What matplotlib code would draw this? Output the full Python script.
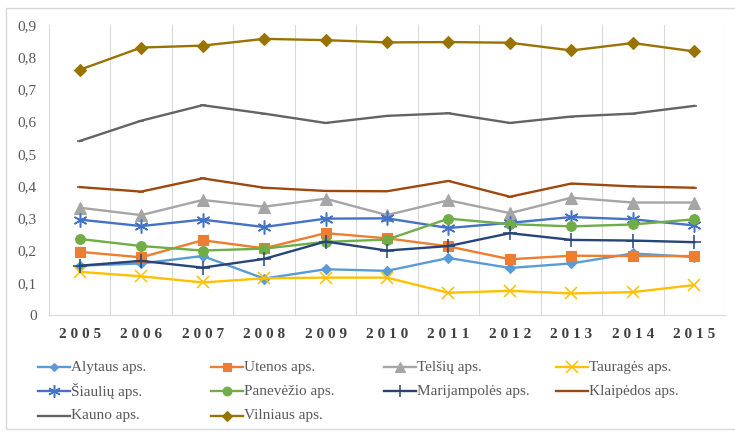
import matplotlib
matplotlib.use("Agg")
import matplotlib.pyplot as plt
from matplotlib.patches import Rectangle
from matplotlib.lines import Line2D

years = [2005, 2006, 2007, 2008, 2009, 2010, 2011, 2012, 2013, 2014, 2015]
y_ticks = [0, 0.1, 0.2, 0.3, 0.4, 0.5, 0.6, 0.7, 0.8, 0.9]
y_tick_labels = ["0", "0,1", "0,2", "0,3", "0,4", "0,5", "0,6", "0,7", "0,8", "0,9"]

alytus = [0.153, 0.160, 0.183, 0.113, 0.142, 0.137, 0.177, 0.146, 0.160, 0.191, 0.180]
utena = [0.196, 0.179, 0.232, 0.207, 0.254, 0.238, 0.213, 0.173, 0.184, 0.183, 0.183]
telsiai = [0.333, 0.310, 0.357, 0.336, 0.361, 0.310, 0.356, 0.316, 0.364, 0.349, 0.349]
taurage = [0.134, 0.120, 0.101, 0.114, 0.116, 0.116, 0.069, 0.075, 0.067, 0.071, 0.093]
siauliai = [0.296, 0.276, 0.296, 0.273, 0.299, 0.300, 0.270, 0.286, 0.304, 0.297, 0.278]
panevezys = [0.236, 0.214, 0.200, 0.206, 0.227, 0.234, 0.299, 0.282, 0.275, 0.281, 0.297]
marijampole = [0.153, 0.168, 0.147, 0.174, 0.228, 0.200, 0.214, 0.254, 0.233, 0.231, 0.226]
klaipeda = [0.397, 0.383, 0.424, 0.395, 0.385, 0.384, 0.416, 0.367, 0.408, 0.399, 0.395]
kaunas = [0.540, 0.603, 0.651, 0.625, 0.596, 0.618, 0.626, 0.596, 0.616, 0.625, 0.649]
vilnius = [0.761, 0.830, 0.836, 0.857, 0.853, 0.846, 0.847, 0.845, 0.821, 0.844, 0.818]

names = ["Alytaus aps.", "Utenos aps.", "Telšių aps.", "Tauragės aps.",
         "Šiaulių aps.", "Panevėžio aps.", "Marijampolės aps.", "Klaipėdos aps.",
         "Kauno aps.", "Vilniaus aps."]
series = [alytus, utena, telsiai, taurage, siauliai, panevezys, marijampole,
          klaipeda, kaunas, vilnius]
colors = ["#5B9BD5", "#ED7D31", "#A5A5A5", "#FFC000", "#4472C4", "#70AD47",
          "#264478", "#9E480E", "#636363", "#997300"]
markers = ["D", "s", "^", "x", "*", "o", "+", "_", "_", "D"]
msizes = [5, 7, 8, 9, 10, 7, 10, 5, 5, 6]

fig = plt.figure(figsize=(7.35, 4.33), dpi=100)
serif = ["Liberation Serif", "DejaVu Serif"]


def mk_of(m):
    return (6, 2, 0) if m == "*" else m


def mew_of(m):
    return 1.1 if m in ("x", "+", "*", "_") else 0.8


# outer chart border
fig.patches.append(Rectangle((6 / 735, 4 / 433), 740 / 735, 421 / 433,
                             transform=fig.transFigure, fill=False,
                             edgecolor="#D9D9D9", linewidth=1.0))

ax = fig.add_axes([49 / 735, (433 - 315) / 433, 676 / 735, 290 / 433])
x = list(range(len(years)))
for vals, name, c, m, ms in zip(series, names, colors, markers, msizes):
    ax.plot(x, vals, color=c, marker=mk_of(m), markersize=ms, linewidth=1.7,
            markeredgewidth=mew_of(m), markerfacecolor=c, markeredgecolor=c,
            label=name)

ax.set_xlim(-0.5, len(years) - 0.5)
ax.set_ylim(0, 0.9)
ax.set_yticks(y_ticks)
ax.set_yticklabels(y_tick_labels, fontfamily=serif, fontsize=11, color="#595959")
ax.set_xticks(x)
ax.set_xticklabels([" ".join(str(y)) for y in years], fontfamily=serif,
                   fontsize=11, fontweight="bold", color="#404040")
ax.tick_params(axis="y", length=0, pad=9)
ax.tick_params(axis="x", length=0, pad=9)
# vertical gridlines between categories
for b in range(len(years) + 1):
    ax.axvline(b - 0.5, color="#D9D9D9", linewidth=0.8, zorder=0)
for s in ["top", "right", "left"]:
    ax.spines[s].set_visible(False)
ax.spines["bottom"].set_color("#D9D9D9")

# legend: 4 columns, row-major, equal column widths
col_x = [38, 211, 384, 556]
row_y = [367, 391, 416]
for i, (name, c, m, ms) in enumerate(zip(names, colors, markers, msizes)):
    r, k = divmod(i, 4)
    x0 = col_x[k] / 735
    x1 = (col_x[k] + 32) / 735
    yy = 1 - row_y[r] / 433
    fig.add_artist(Line2D([x0, x1], [yy, yy], transform=fig.transFigure,
                          color=c, linewidth=1.7))
    fig.add_artist(Line2D([(x0 + x1) / 2], [yy], transform=fig.transFigure,
                          color=c, marker=mk_of(m), markersize=ms * 0.9,
                          markerfacecolor=c, markeredgecolor=c,
                          markeredgewidth=mew_of(m), linestyle="none"))
    fig.text(x1 + 1 / 735, yy, name, fontfamily=serif, fontsize=11,
             color="#595959", va="center", ha="left")

fig.savefig("out.png", dpi=100)
